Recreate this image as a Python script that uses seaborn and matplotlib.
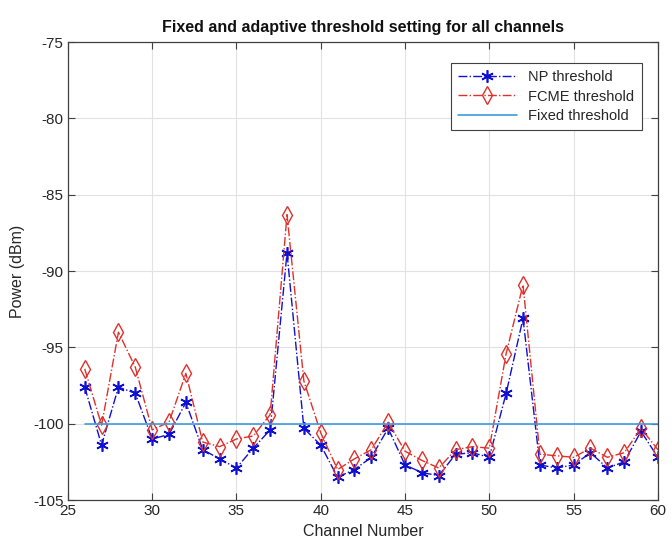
import matplotlib
matplotlib.use("Agg")
import matplotlib.pyplot as plt
import seaborn as sns
import pandas as pd

channels = list(range(26, 61))
np_threshold = [-97.6, -101.4, -97.6, -98.0, -101.0, -100.7, -98.6, -101.7, -102.3, -102.9,
                -101.6, -100.4, -88.8, -100.3, -101.4, -103.5, -103.0, -102.2, -100.3, -102.7,
                -103.2, -103.4, -102.0, -101.9, -102.2, -98.0, -93.1, -102.7, -102.9, -102.7,
                -101.9, -102.9, -102.5, -100.5, -102.2]
fcme_threshold = [-96.4, -100.1, -94.0, -96.3, -100.4, -99.9, -96.7, -101.2, -101.5, -101.0,
                  -100.8, -99.4, -86.3, -97.2, -100.6, -103.0, -102.3, -101.7, -99.9, -101.8,
                  -102.4, -102.9, -101.7, -101.5, -101.6, -95.4, -90.9, -102.0, -102.1, -102.2,
                  -101.6, -102.2, -101.9, -100.3, -101.7]
fixed_level = -100
x_ticks = [25, 30, 35, 40, 45, 50, 55, 60]
y_ticks = [-105, -100, -95, -90, -85, -80, -75]

df = pd.DataFrame({"channel": channels, "np": np_threshold, "fcme": fcme_threshold})
df["fixed"] = fixed_level

sns.set_style("whitegrid")
plt.rcParams['font.family'] = ['Liberation Sans', 'DejaVu Sans']
plt.rcParams['axes.unicode_minus'] = False

fig = plt.figure(figsize=(6.72, 5.55), dpi=100)
ax = fig.add_axes([0.101, 0.099, 0.878, 0.825])

sns.lineplot(data=df, x="channel", y="np", ax=ax, color="#1010d0", linestyle="-.",
             marker=(6, 2, 0), markersize=9, markeredgecolor="#1010d0",
             markeredgewidth=1.2, linewidth=1.0, label="NP threshold")
sns.lineplot(data=df, x="channel", y="fcme", ax=ax, color="#e0302a", linestyle="-.",
             marker="d", markersize=9, markerfacecolor="none", markeredgecolor="#e0302a",
             markeredgewidth=1.0, linewidth=1.0, label="FCME threshold")
sns.lineplot(x=[x_ticks[0] + 1, x_ticks[-1]], y=[fixed_level, fixed_level], ax=ax,
             color="#3d9be0", linewidth=1.2, label="Fixed threshold")

ax.set_xlim(25, 60)
ax.set_ylim(-105, -75)
ax.set_xticks(x_ticks)
ax.set_yticks(y_ticks)
ax.grid(True, color="#e2e2e2", linewidth=0.8)
for s in ax.spines.values():
    s.set_color("#404040")
    s.set_linewidth(0.9)
ax.tick_params(axis="both", labelsize=11, colors="#404040", labelcolor="#262626",
               direction="in", length=5, pad=3,
               left=True, bottom=True, top=True, right=True)
ax.set_xlabel("Channel Number", fontsize=11.5, color="#262626", labelpad=4)
ax.set_ylabel("Power (dBm)", fontsize=11.5, color="#262626", labelpad=6)
ax.set_title("Fixed and adaptive threshold setting for all channels", fontsize=11.5,
             fontweight="bold", color="#111111", pad=7)
leg = ax.legend(loc="upper right", bbox_to_anchor=(0.985, 0.97), fontsize=10.5,
                frameon=True, fancybox=False, edgecolor="#404040", framealpha=1,
                handlelength=4.0, borderpad=0.5, labelspacing=0.35)
leg.get_frame().set_linewidth(0.8)

fig.savefig("out.png", dpi=100)
